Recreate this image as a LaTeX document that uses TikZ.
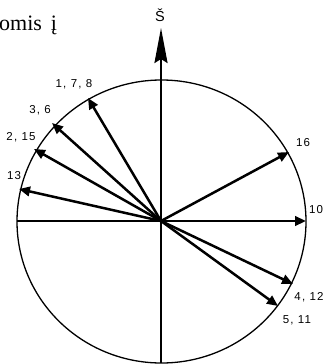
\documentclass[tikz,border=0pt]{standalone}
\usepackage{fontspec}
\setmainfont{Liberation Serif}
\setsansfont{Liberation Sans}
\usetikzlibrary{arrows.meta}
\begin{document}
\begin{tikzpicture}[x=1pt,y=-1pt,
  lbl/.style={font=\sffamily\fontsize{11.5}{12}\selectfont\addfontfeature{LetterSpace=10}, inner sep=0pt},
  vec/.style={line width=2.5pt, -{Triangle[length=11pt,width=9.5pt]}},
  rim/.style={line width=1.3pt}]
\useasboundingbox (0,0) rectangle (330,364);
\coordinate (O) at (161,221);
\coordinate (L) at (17,221);
\coordinate (B) at (161,363);
\coordinate (N) at (161,28);
\coordinate (t178) at (88,98);
\coordinate (t36) at (52,123);
\coordinate (t215) at (34,149);
\coordinate (t13) at (19,189);
\coordinate (t16) at (289,152);
\coordinate (t10) at (306,221);
\coordinate (t412) at (293,284);
\coordinate (t511) at (278,306);
\draw[rim] (161.5,221.5) ellipse [x radius=144.5, y radius=141.5];
\draw[line width=2.2pt] (O) -- (L);
\draw[line width=2.2pt, -{Stealth[length=35pt,width=13pt,inset=4pt]}] (B) -- (N);
\foreach \t in {t178,t36,t215,t13,t16,t10,t412,t511}
  \draw[vec] (O) -- (\t);
\node[lbl] (l178) at (74,84) {1, 7, 8};
\node[lbl] (l36) at (40,110) {3, 6};
\node[lbl] (l215) at (21,137) {2, 15};
\node[lbl] (l13) at (14,176) {13};
\node[lbl] (l16) at (303,143) {16};
\node[lbl] (l10) at (316,210) {10};
\node[lbl] (l412) at (309,297) {4, 12};
\node[lbl] (l511) at (297,320) {5, 11};
\node[font=\sffamily\fontsize{14.5}{15}\selectfont, inner sep=0pt] (S) at (160,15) {Š};
\node[font=\fontsize{22}{24}\selectfont, inner sep=0pt, anchor=base west] (T) at (-1,30) {omis\hspace{9pt}į};
\end{tikzpicture}
\end{document}
